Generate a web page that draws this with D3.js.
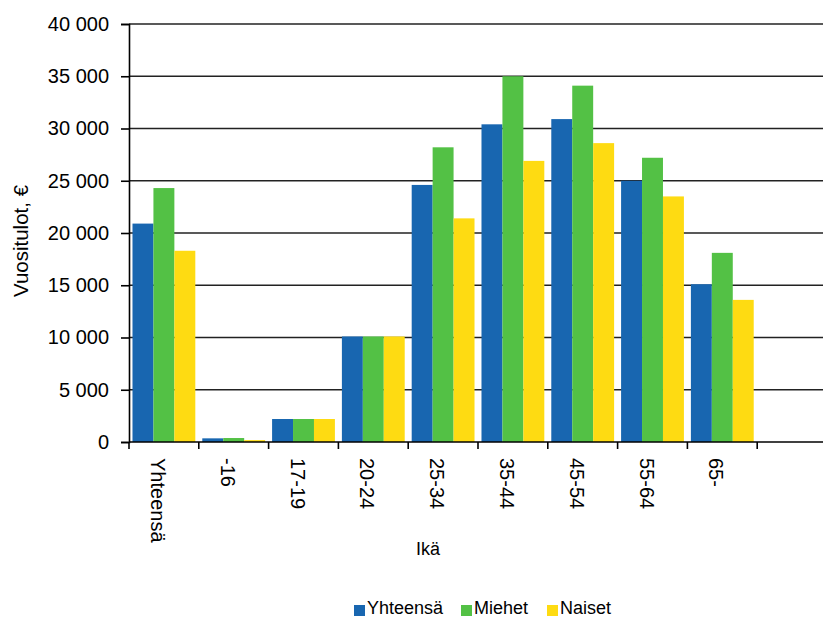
<!DOCTYPE html>
<html><head><meta charset="utf-8">
<script src="https://cdn.jsdelivr.net/npm/d3@7"></script>
<style>body{margin:0;background:#fff}svg{display:block}text{font-family:"Liberation Sans",Arial,sans-serif;fill:#000}</style>
</head><body>
<svg id="c" width="823" height="619"></svg>
<script>
const categories = ["Yhteensä","-16","17-19","20-24","25-34","35-44","45-54","55-64","65-"];
const seriesNames = ["Yhteensä","Miehet","Naiset"];
const yhteensa = [20900, 350, 2200, 10100, 24600, 30400, 30900, 25000, 15100];
const miehet   = [24300, 380, 2200, 10100, 28200, 35000, 34100, 27200, 18100];
const naiset   = [18300, 180, 2200, 10100, 21400, 26900, 28600, 23500, 13600];
const yTicks = [0,5000,10000,15000,20000,25000,30000,35000,40000];
const colors = ["#1866B0","#53C145","#FEDB12"];
const values = [yhteensa, miehet, naiset];

(function(){
const svg = d3.select("#c");
const pLeft = 129, pTop = 24, pBottom = 442, slotW = 69.8;
const x = d3.scaleBand().domain(categories).range([pLeft, pLeft + slotW*categories.length]).paddingInner(0.1).paddingOuter(0.05);
const xs = d3.scaleBand().domain(seriesNames).range([0, x.bandwidth()]);
const y = d3.scaleLinear().domain([0,40000]).range([pBottom, pTop]);
const fmt = v => d3.format(",")(v).replace(/,/g," ");

svg.append("g").selectAll("line").data(yTicks.slice(1)).join("line")
  .attr("x1", pLeft).attr("x2", 823).attr("y1", d=>y(d)).attr("y2", d=>y(d))
  .attr("stroke","#222").attr("stroke-width",1.6);

const g = svg.append("g");
categories.forEach((c,i)=>{
  seriesNames.forEach((s,j)=>{
    g.append("rect").attr("x", x(c)+xs(s)).attr("width", xs.bandwidth())
      .attr("y", y(values[j][i])).attr("height", y(0)-y(values[j][i]))
      .attr("fill", colors[j]);
  });
});

const ya = svg.append("g").attr("transform",`translate(${pLeft},0)`)
  .call(d3.axisLeft(y).tickValues(yTicks).tickFormat(fmt).tickSize(8).tickPadding(12));
ya.select(".domain").attr("stroke","#000").attr("stroke-width",1.6);
ya.selectAll(".tick line").attr("stroke","#000").attr("stroke-width",1.6);
ya.selectAll("text").style("font-size","20px").attr("fill","#000");

svg.append("line").attr("x1",pLeft).attr("x2",823).attr("y1",pBottom).attr("y2",pBottom).attr("stroke","#000").attr("stroke-width",1.6);
const tickXs = d3.range(categories.length+1).map(i=>pLeft + i*slotW);
svg.append("g").selectAll("line").data(tickXs).join("line")
  .attr("x1",d=>d).attr("x2",d=>d).attr("y1",pBottom).attr("y2",pBottom+7)
  .attr("stroke","#000").attr("stroke-width",1.6);
svg.append("g").selectAll("text").data(categories).join("text")
  .attr("transform", d=>`translate(${x(d)+x.bandwidth()/2-6},458) rotate(90)`)
  .attr("dy","0.35em").style("font-size","20px").text(d=>d);

svg.append("text").attr("x",428).attr("y",555).attr("text-anchor","middle").style("font-size","18px").text("Ikä");
svg.append("text").attr("transform",`translate(28,241) rotate(-90)`).attr("text-anchor","middle").style("font-size","20.5px").text("Vuositulot, €");

const legX = [354, 461, 547];
const lg = svg.append("g");
seriesNames.forEach((s,j)=>{
  lg.append("rect").attr("x",legX[j]).attr("y",605).attr("width",11).attr("height",11).attr("fill",colors[j]);
  lg.append("text").attr("x",legX[j]+13).attr("y",614).style("font-size","18px").text(s);
});
})();
</script>
</body></html>
